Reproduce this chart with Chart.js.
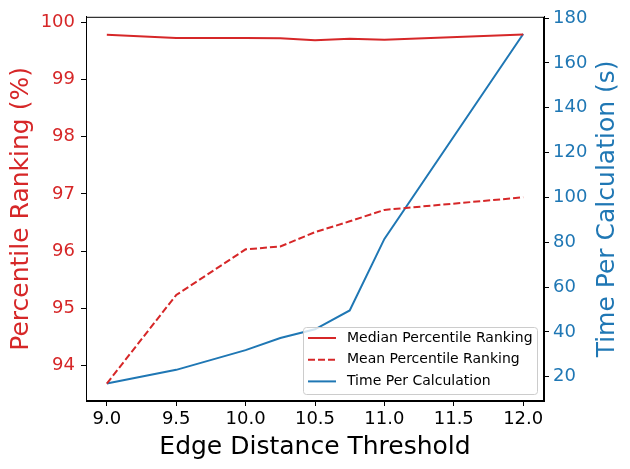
<!DOCTYPE html>
<html>
<head>
<meta charset="utf-8">
<script src="https://cdn.jsdelivr.net/npm/chart.js@4"></script>
<style>
  html, body { margin: 0; padding: 0; background: #fff; }
  #wrap { width: 630px; height: 469px; }
</style>
</head>
<body>
<div id="wrap"><canvas id="chart" width="630" height="469"></canvas></div>
<script>
// Dados
var thresholds = [9.0, 9.5, 10.0, 10.25, 10.5, 10.75, 11.0, 12.0];
var medianRanking = [99.785, 99.73, 99.73, 99.725, 99.69, 99.715, 99.70, 99.79];
var meanRanking = [93.68, 95.23, 96.03, 96.08, 96.33, 96.52, 96.72, 96.94];
var timePerCalc = [17.0, 23.1, 31.9, 37.3, 41.2, 49.6, 81.5, 172.9];

var xTicks = [9.0, 9.5, 10.0, 10.5, 11.0, 11.5, 12.0];
var leftTicks = [94, 95, 96, 97, 98, 99, 100];
var rightTicks = [20, 40, 60, 80, 100, 120, 140, 160, 180];

var xTitle = 'Edge Distance Threshold';
var leftTitle = 'Percentile Ranking (%)';
var rightTitle = 'Time Per Calculation (s)';

var RED = '#d62728';
var BLUE = '#1f77b4';
var FONT = "'DejaVu Sans', sans-serif";

function points(ys) {
  return thresholds.map(function (x, i) { return { x: x, y: ys[i] }; });
}

function setTicks(list) {
  return function (scale) {
    scale.ticks = list.map(function (v) { return { value: v }; });
  };
}

// Moldura em volta da área do gráfico + títulos dos eixos
var framePlugin = {
  id: 'frame',
  afterDraw: function (chart) {
    var a = chart.chartArea, ctx = chart.ctx;
    ctx.save();
    ctx.strokeStyle = '#000';
    ctx.lineWidth = 1;
    ctx.strokeRect(a.left + 0.5, a.top + 0.5, a.right - a.left - 1, a.bottom - a.top - 1);

    ctx.font = '25px ' + FONT;
    ctx.textAlign = 'center';
    ctx.textBaseline = 'alphabetic';
    ctx.fillStyle = '#000';
    ctx.fillText(xTitle, (a.left + a.right) / 2, 454);

    var midY = (a.top + a.bottom) / 2;
    ctx.textBaseline = 'middle';
    ctx.save();
    ctx.translate(21, midY);
    ctx.rotate(-Math.PI / 2);
    ctx.fillStyle = RED;
    ctx.fillText(leftTitle, 0, 0);
    ctx.restore();

    ctx.save();
    ctx.translate(607, midY);
    ctx.rotate(-Math.PI / 2);
    ctx.fillStyle = BLUE;
    ctx.fillText(rightTitle, 0, 0);
    ctx.restore();
    ctx.restore();
  }
};

// Legenda desenhada dentro da área, canto inferior direito
var legendPlugin = {
  id: 'boxLegend',
  afterDraw: function (chart) {
    var ctx = chart.ctx, a = chart.chartArea;
    var sets = chart.data.datasets;
    var w = 234, h = 67;
    var x0 = a.right - 7 - w, y0 = a.bottom - 7 - h;
    ctx.save();
    ctx.fillStyle = 'rgba(255,255,255,0.8)';
    ctx.strokeStyle = '#cccccc';
    ctx.lineWidth = 1;
    ctx.beginPath();
    ctx.roundRect(x0 + 0.5, y0 + 0.5, w, h, 3);
    ctx.fill();
    ctx.stroke();
    ctx.font = '14px ' + FONT;
    ctx.textBaseline = 'middle';
    sets.forEach(function (ds, i) {
      var y = y0 + 11 + i * 21.7;
      ctx.strokeStyle = ds.borderColor;
      ctx.lineWidth = 2;
      ctx.setLineDash(ds.borderDash || []);
      ctx.beginPath();
      ctx.moveTo(x0 + 5, y);
      ctx.lineTo(x0 + 33, y);
      ctx.stroke();
      ctx.setLineDash([]);
      ctx.fillStyle = '#000';
      ctx.fillText(ds.label, x0 + 44, y);
    });
    ctx.restore();
  }
};

var ctx = document.getElementById('chart').getContext('2d');
var chart = new Chart(ctx, {
  type: 'line',
  data: {
    datasets: [{
      label: 'Median Percentile Ranking',
      data: points(medianRanking),
      borderColor: RED,
      borderWidth: 2,
      pointRadius: 0,
      yAxisID: 'y'
    }, {
      label: 'Mean Percentile Ranking',
      data: points(meanRanking),
      borderColor: RED,
      borderWidth: 2,
      borderDash: [7, 3],
      pointRadius: 0,
      yAxisID: 'y'
    }, {
      label: 'Time Per Calculation',
      data: points(timePerCalc),
      borderColor: BLUE,
      borderWidth: 2,
      pointRadius: 0,
      yAxisID: 'y1'
    }]
  },
  options: {
    responsive: false,
    animation: false,
    devicePixelRatio: 1,
    layout: { padding: { top: 15, left: 0, right: 0, bottom: 0 } },
    plugins: {
      legend: { display: false },
      tooltip: { enabled: false }
    },
    scales: {
      x: {
        type: 'linear',
        min: 8.85,
        max: 12.15,
        afterBuildTicks: setTicks(xTicks),
        afterFit: function (s) { s.height = 68; },
        grid: { drawOnChartArea: false, tickLength: 5, color: '#000', tickWidth: 1 },
        border: { display: true, color: '#000', width: 1 },
        ticks: {
          color: '#000',
          padding: 3,
          maxRotation: 0,
          font: { family: FONT, size: 18 },
          callback: function (v) { return v.toFixed(1); }
        }
      },
      y: {
        position: 'left',
        min: 93.375,
        max: 100.1,
        afterBuildTicks: setTicks(leftTicks),
        afterFit: function (s) { s.width = 86; },
        grid: { drawOnChartArea: false, tickLength: 5, color: '#000', tickWidth: 1 },
        border: { display: true, color: '#000', width: 1 },
        ticks: {
          color: RED,
          padding: 6,
          font: { family: FONT, size: 18 }
        }
      },
      y1: {
        position: 'right',
        min: 9.2,
        max: 180.6,
        afterBuildTicks: setTicks(rightTicks),
        afterFit: function (s) { s.width = 86; },
        grid: { drawOnChartArea: false, tickLength: 5, color: '#000', tickWidth: 1 },
        border: { display: true, color: '#000', width: 1 },
        ticks: {
          color: BLUE,
          padding: 4,
          font: { family: FONT, size: 18 }
        }
      }
    }
  },
  plugins: [framePlugin, legendPlugin]
});
</script>
</body>
</html>
